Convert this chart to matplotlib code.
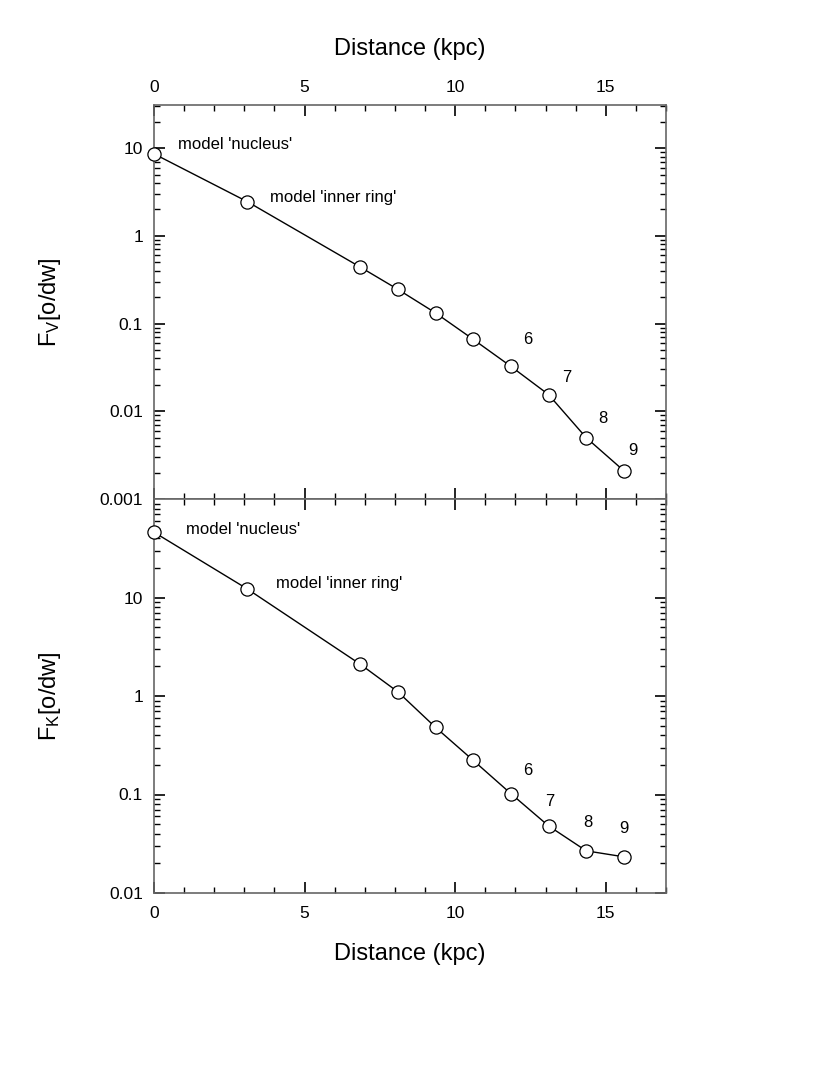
import matplotlib
matplotlib.use('Agg')
import matplotlib.pyplot as plt
from matplotlib.ticker import FixedLocator, LogLocator, MultipleLocator, NullFormatter, FuncFormatter

plt.rcParams['font.family'] = ['Liberation Sans', 'DejaVu Sans']
plt.rcParams['mathtext.fontset'] = 'custom'
plt.rcParams['mathtext.rm'] = 'Liberation Sans'

# distances of the model rings (kpc)
distance = [0.0, 3.1, 6.85, 8.1, 9.35, 10.6, 11.85, 13.1, 14.35, 15.6]
# V band flux ratio
flux_v = [8.6, 2.45, 0.44, 0.245, 0.132, 0.066, 0.0325, 0.0155, 0.0050, 0.0021]
# K band flux ratio
flux_k = [46.0, 12.2, 2.1, 1.1, 0.48, 0.222, 0.102, 0.048, 0.0268, 0.0233]

# labels next to points: (text, x, y)
labels_v = [("model 'nucleus'", 0.8, 11.0), ("model 'inner ring'", 3.85, 2.75),
            ("6", 12.4, 0.066), ("7", 13.7, 0.0241), ("8", 14.9, 0.0082), ("9", 15.9, 0.0036)]
labels_k = [("model 'nucleus'", 1.06, 49.0), ("model 'inner ring'", 4.05, 13.9),
            ("6", 12.4, 0.176), ("7", 13.15, 0.085), ("8", 14.4, 0.0518), ("9", 15.6, 0.045)]

yticks_v = [0.001, 0.01, 0.1, 1, 10]
yticks_k = [0.01, 0.1, 1, 10]

fig = plt.figure(figsize=(8.14, 10.66), dpi=100)
left, width, height = 154 / 814, 512 / 814, 394 / 1066
ax1 = fig.add_axes([left, 1 - 499 / 1066, width, height])
ax2 = fig.add_axes([left, 1 - 893 / 1066, width, height])


def fmt(v, pos):
    return '%g' % v


def style(ax, yticks, ylim, ylabel):
    ax.set_yscale('log')
    ax.set_xlim(0, 17)
    ax.set_ylim(*ylim)
    ax.xaxis.set_major_locator(MultipleLocator(5))
    ax.xaxis.set_minor_locator(MultipleLocator(1))
    ax.yaxis.set_major_locator(FixedLocator(yticks))
    ax.yaxis.set_major_formatter(FuncFormatter(fmt))
    ax.yaxis.set_minor_locator(LogLocator(base=10, subs=range(2, 10), numticks=20))
    ax.yaxis.set_minor_formatter(NullFormatter())
    ax.tick_params(which='both', direction='in', top=True, right=True, labelsize=12.5, color='black')
    ax.tick_params(axis='y', pad=8)
    ax.tick_params(axis='x', pad=7)
    ax.tick_params(which='major', length=8, width=1.2)
    ax.tick_params(which='minor', length=4.5, width=1.0)
    for s in ax.spines.values():
        s.set_color('#666666')
        s.set_linewidth(1.2)
    ax.set_ylabel(ylabel, fontsize=17)
    ax.yaxis.set_label_coords(-0.178, 0.5)


# top panel: V band
ax1.plot(distance, flux_v, color='black', lw=1.0, marker='o', ms=9.5,
         mfc='white', mec='black', mew=0.9, clip_on=False, zorder=3)
style(ax1, yticks_v, (0.001, 31), r'$\mathregular{F_V[o/dw]}$')
ax1.xaxis.set_label_position('top')
ax1.tick_params(axis='x', labeltop=True, labelbottom=False)
ax1.set_xlabel('Distance (kpc)', fontsize=17, labelpad=18)
for t, x, y in labels_v:
    ax1.text(x, y, t, fontsize=12, va='center', ha='left' if len(t) > 1 else 'center')

# bottom panel: K band
ax2.plot(distance, flux_k, color='black', lw=1.0, marker='o', ms=9.5,
         mfc='white', mec='black', mew=0.9, clip_on=False, zorder=3)
style(ax2, yticks_k, (0.01, 100), r'$\mathregular{F_K[o/dw]}$')
ax2.tick_params(axis='x', pad=9)
ax2.set_xlabel('Distance (kpc)', fontsize=17, labelpad=16)
for t, x, y in labels_k:
    ax2.text(x, y, t, fontsize=12, va='center', ha='left' if len(t) > 1 else 'center')

fig.savefig('out.png', dpi=100)
